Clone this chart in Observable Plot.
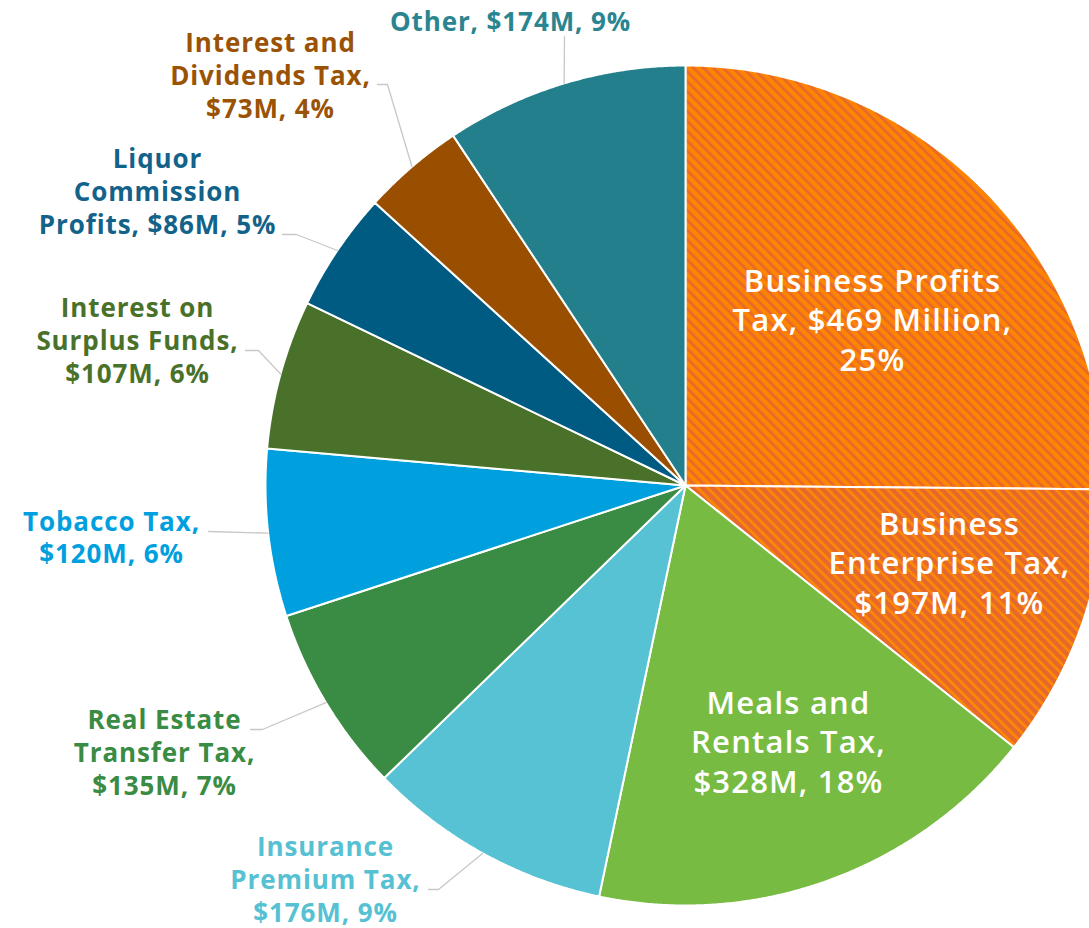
<!DOCTYPE html>
<html>
<head>
<meta charset="utf-8">
<script src="https://cdn.jsdelivr.net/npm/d3@7"></script>
<script src="https://cdn.jsdelivr.net/npm/@observablehq/plot@0.6"></script>
<style>
  html, body { margin: 0; padding: 0; background: #fff; }
  #chart svg { display: block; }
</style>
</head>
<body>
<div id="chart"></div>
<script>
// ---- data ----
const categories = [
  "Business Profits Tax", "Business Enterprise Tax", "Meals and Rentals Tax",
  "Insurance Premium Tax", "Real Estate Transfer Tax", "Tobacco Tax",
  "Interest on Surplus Funds", "Liquor Commission Profits",
  "Interest and Dividends Tax", "Other"
];
const values = [469, 197, 328, 176, 135, 120, 107, 86, 73, 174]; // $ millions
const labelTexts = [
  "Business Profits\nTax, $469 Million,\n25%",
  "Business\nEnterprise Tax,\n$197M, 11%",
  "Meals and\nRentals Tax,\n$328M, 18%",
  "Insurance\nPremium Tax,\n$176M, 9%",
  "Real Estate\nTransfer Tax,\n$135M, 7%",
  "Tobacco Tax,\n$120M, 6%",
  "Interest on\nSurplus Funds,\n$107M, 6%",
  "Liquor\nCommission\nProfits, $86M, 5%",
  "Interest and\nDividends Tax,\n$73M, 4%",
  "Other, $174M, 9%"
];

// ---- styles / layout ----
const sliceFills = [
  "url(#hatchBP)", "url(#hatchBE)", "#77bb43", "#57c2d3", "#3a8b43",
  "#00a0df", "#4a712a", "#005b83", "#9a4f00", "#237f8b"
];
const labelColors = [
  "#ffffff", "#ffffff", "#ffffff", "#56c1d3", "#3a8b43",
  "#00a0df", "#4a712a", "#12628a", "#9a5205", "#2a8590"
];
const W = 1089, H = 928, CX = 685, CY = 485, R = 420;
// label anchor (text block centre) and leader route for outside labels
const labelLayout = [
  {inside: true, x: 872, y: 318},
  {inside: true, x: 949, y: 561},
  {inside: true, x: 788, y: 740},
  {x: 325, y: 878, route: [[438, 889], [428, 889]]},
  {x: 164, y: 751, route: [[262, 729], [250, 729]]},
  {x: 111, y: 536, route: [[208, 531]]},
  {x: 137, y: 339, route: [[258, 350], [245, 350]]},
  {x: 157, y: 190, route: [[296, 234], [282, 234]]},
  {x: 270, y: 74, route: [[387, 84], [377, 84]]},
  {x: 510, y: 20, route: [[564, 36]]}
];

// ---- geometry from data ----
const rows = categories.map((name, i) => ({name, value: values[i], i}));
const arcs = d3.pie().sort(null).value(d => d.value)(rows);
const pt = (a, r) => [CX + r * Math.sin(a), CY - r * Math.cos(a)];

const slicePts = [];
for (const a of arcs) {
  const name = a.data.name;
  slicePts.push({name, p: [CX, CY]});
  const n = Math.max(2, Math.ceil((a.endAngle - a.startAngle) / 0.005));
  for (let k = 0; k <= n; k++) {
    const ang = a.startAngle + (a.endAngle - a.startAngle) * k / n;
    slicePts.push({name, p: pt(ang, R)});
  }
  slicePts.push({name, p: [CX, CY]});
}

const leaderPts = [];
arcs.forEach((a, i) => {
  const L = labelLayout[i];
  if (L.inside) return;
  const mid = (a.startAngle + a.endAngle) / 2;
  leaderPts.push({name: a.data.name, p: pt(mid, R)});
  for (const q of L.route) leaderPts.push({name: a.data.name, p: q});
});

const insideLabels = rows.filter(d => labelLayout[d.i].inside);
const outsideLabels = rows.filter(d => !labelLayout[d.i].inside);

const chart = Plot.plot({
  width: W, height: H, margin: 0,
  style: {background: "#fff"},
  x: {domain: [0, W], range: [0, W], axis: null},
  y: {domain: [0, H], range: [0, H], axis: null},
  color: {domain: categories, range: sliceFills},
  marks: [
    Plot.line(slicePts, {
      x: d => d.p[0], y: d => d.p[1], z: "name", fill: "name",
      stroke: "#ffffff", strokeWidth: 2, strokeLinejoin: "round", curve: "linear"
    }),
    Plot.line(leaderPts, {
      x: d => d.p[0], y: d => d.p[1], z: "name",
      stroke: "#c8c8c8", strokeWidth: 1.3, curve: "linear"
    }),
    Plot.text(insideLabels, {
      x: d => labelLayout[d.i].x, y: d => labelLayout[d.i].y,
      text: d => labelTexts[d.i], fill: d => labelColors[d.i],
      fontSize: 31, fontWeight: 600, lineHeight: 1.28,
      fontFamily: "'Open Sans', sans-serif", textAnchor: "middle", lineAnchor: "middle"
    }),
    Plot.text(outsideLabels, {
      x: d => labelLayout[d.i].x, y: d => labelLayout[d.i].y,
      text: d => labelTexts[d.i], fill: d => labelColors[d.i],
      fontSize: 26, fontWeight: 700, lineHeight: 1.26,
      fontFamily: "'Open Sans', sans-serif", textAnchor: "middle", lineAnchor: "middle"
    })
  ]
});

// text tracking to match the wider original typeface
const textGroups = d3.select(chart).selectAll('g[aria-label="text"]').nodes();
if (textGroups[0]) textGroups[0].style.letterSpacing = "1.2px";
if (textGroups[1]) textGroups[1].style.letterSpacing = "0.9px";

// hatch patterns for the two business taxes
const defs = d3.select(chart).insert("defs", ":first-child");
function hatch(id, base, stripe, w) {
  const p = defs.append("pattern").attr("id", id)
    .attr("patternUnits", "userSpaceOnUse").attr("width", 7).attr("height", 7)
    .attr("patternTransform", "rotate(-45)");
  p.append("rect").attr("width", 7).attr("height", 7).attr("fill", base);
  p.append("rect").attr("width", w).attr("height", 7).attr("fill", stripe);
}
hatch("hatchBP", "#ff8400", "#e5692e", 2.6);
hatch("hatchBE", "#e5692e", "#ff8a00", 2.6);

document.getElementById("chart").appendChild(chart);
</script>
</body>
</html>
